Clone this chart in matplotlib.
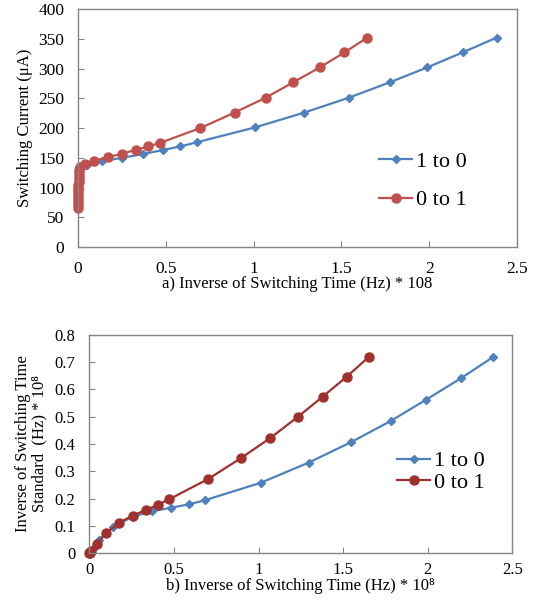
import numpy as np
import matplotlib
matplotlib.use("Agg")
import matplotlib.pyplot as plt

plt.rcParams['font.family'] = ['Liberation Serif', 'DejaVu Serif']

# a) switching current vs inverse switching time
a_x10 = [0.001, 0.001, 0.001, 0.001, 0.001, 0.001, 0.002, 0.002, 0.002, 0.003, 0.004, 0.005, 0.006, 0.008, 0.02,
         0.053, 0.138, 0.25, 0.368, 0.482, 0.583, 0.676, 1.008, 1.289, 1.543, 1.777, 1.99, 2.19, 2.384]
a_y10 = [65, 70, 75, 80, 85, 90, 95, 100, 105, 110, 115, 120, 125, 130, 134,
         138, 144, 150, 156, 163, 169, 176, 201, 226, 251, 277, 302, 327, 352]
a_x01 = [0.001, 0.001, 0.001, 0.001, 0.001, 0.001, 0.002, 0.002, 0.002, 0.003, 0.003, 0.004, 0.005, 0.007, 0.012,
         0.04, 0.093, 0.171, 0.252, 0.328, 0.40, 0.467, 0.697, 0.892, 1.069, 1.226, 1.378, 1.517, 1.648]
a_y01 = [65, 70, 75, 80, 85, 90, 95, 100, 105, 110, 115, 120, 125, 130, 135,
         140, 145, 151, 157, 163, 169, 175, 200, 226, 251, 277, 302, 327, 352]

# b) standard inverse switching time
b_x10 = [0.0, 0.005, 0.02, 0.055, 0.14, 0.256, 0.372, 0.485, 0.587, 0.682, 1.013, 1.297, 1.545, 1.781, 1.99, 2.195, 2.386]
b_y10 = [0.0, 0.004, 0.017, 0.049, 0.096, 0.134, 0.154, 0.167, 0.179, 0.194, 0.258, 0.332, 0.406, 0.484, 0.562, 0.640, 0.718]
b_x01 = [0.0, 0.002, 0.005, 0.01, 0.043, 0.099, 0.177, 0.256, 0.333, 0.406, 0.473, 0.703, 0.898, 1.07, 1.234, 1.379, 1.521, 1.651]
b_y01 = [0.0, 0.002, 0.004, 0.008, 0.033, 0.074, 0.112, 0.138, 0.158, 0.178, 0.198, 0.272, 0.349, 0.422, 0.500, 0.573, 0.646, 0.718]

xticks = [0, 0.5, 1, 1.5, 2, 2.5]
xtick_labels = ["0", "0.5", "1", "1.5", "2", "2.5"]

blue = "#4F81BD"
red_a = "#C0504D"
red_b = "#A0302D"
spine = "#868686"

fig = plt.figure(figsize=(5.37, 6.01), dpi=100)

def style(ax, fs, padx, pady):
    for s in ax.spines.values():
        s.set_color(spine)
        s.set_linewidth(1.0)
    ax.tick_params(direction="in", length=4, color=spine, labelsize=fs)
    ax.tick_params(axis="x", pad=padx)
    ax.tick_params(axis="y", pad=pady)

#grafico a
ax1 = fig.add_axes([0.1453, 0.589, 0.8175, 0.396])
ax1.plot(a_x10, a_y10, "-D", color=blue, ms=4, lw=1.6, label="1 to 0", clip_on=False)
ax1.plot(a_x01, a_y01, "-o", color=red_a, ms=6.5, lw=1.6, label="0 to 1", clip_on=False)
ax1.set_xlim(0, 2.5)
ax1.set_ylim(0, 400)
ax1.set_xticks(xticks)
ax1.set_xticklabels(xtick_labels)
ax1.set_yticks(np.arange(0, 401, 50))
style(ax1, 12.5, 10, 10)
ax1.set_ylabel("Switching Current (μA)", fontsize=12, labelpad=4)
ax1.set_xlabel("a) Inverse of Switching Time (Hz) * 108", fontsize=12, labelpad=-1)
ax1.legend(loc="upper left", bbox_to_anchor=(0.64, 0.485), frameon=False, fontsize=16,
           handlelength=1.5, handletextpad=0.15, labelspacing=0.8)

#grafico b
ax2 = fig.add_axes([0.1663, 0.0794, 0.7877, 0.3637])
ax2.plot(b_x10, b_y10, "-D", color=blue, ms=4, lw=1.6, label="1 to 0", clip_on=False)
ax2.plot(b_x01, b_y01, "-o", color=red_b, ms=6.5, lw=1.6, label="0 to 1", clip_on=False)
ax2.set_xlim(0, 2.5)
ax2.set_ylim(0, 0.8)
ax2.set_xticks(xticks)
ax2.set_xticklabels(xtick_labels)
ax2.set_yticks(np.arange(0, 0.81, 0.1))
ax2.set_yticklabels(["0", "0.1", "0.2", "0.3", "0.4", "0.5", "0.6", "0.7", "0.8"])
style(ax2, 12, 6, 10)
ax2.set_ylabel("Inverse of Switching Time\nStandard  (Hz) * 10⁸", fontsize=12, labelpad=5,
               linespacing=1.05)
ax2.set_xlabel("b) Inverse of Switching Time (Hz) * 10⁸", fontsize=12, labelpad=0)
ax2.legend(loc="upper left", bbox_to_anchor=(0.68, 0.56), frameon=False, fontsize=16,
           handlelength=1.5, handletextpad=0.15, labelspacing=0.05)

fig.savefig("out.png", dpi=100)
